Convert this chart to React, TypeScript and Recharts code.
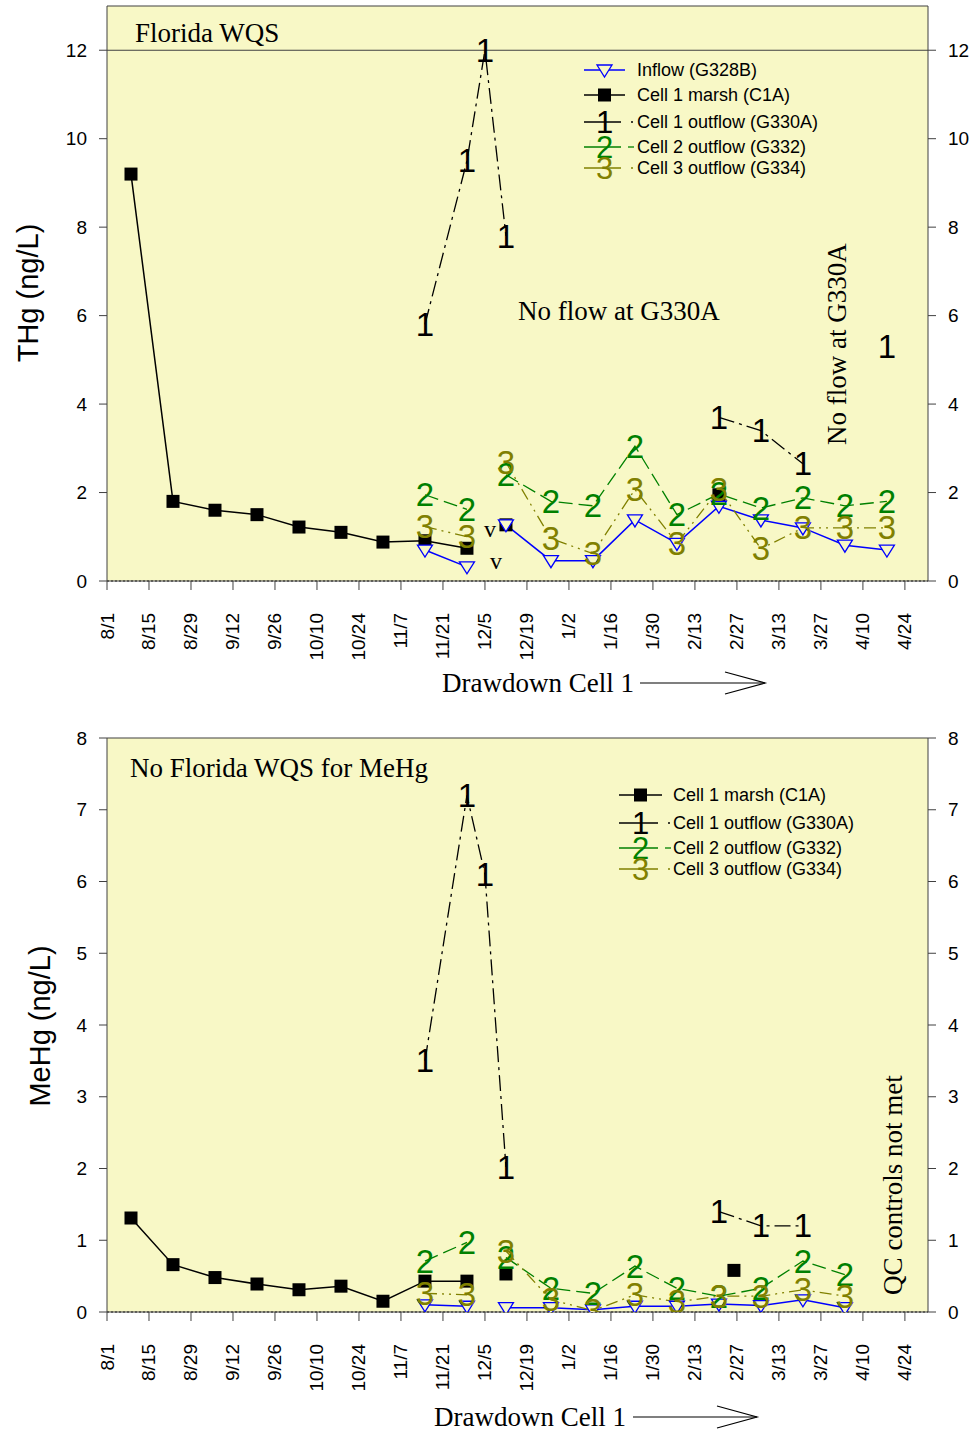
import React from "react";
import { ComposedChart, Line, XAxis, YAxis, CartesianGrid, ReferenceLine } from "recharts";

// x axis tick labels (every two weeks from 8/1)
const tickDates = ["8/1", "8/15", "8/29", "9/12", "9/26", "10/10", "10/24", "11/7", "11/21", "12/5", "12/19", "1/2", "1/16", "1/30", "2/13", "2/27", "3/13", "3/27", "4/10", "4/24"];

// THg panel
const thgDates = ["8/9", "8/23", "9/6", "9/20", "10/4", "10/18", "11/1", "11/15", "11/29", "12/5", "12/12", "12/27", "1/10", "1/24", "2/7", "2/21", "3/7", "3/21", "4/4", "4/18"];
const thgInflow = [null, null, null, null, null, null, null, 0.7, 0.32, null, 1.27, 0.46, 0.46, 1.38, 0.85, 1.69, 1.38, 1.2, 0.81, 0.7];
const thgC1A = [9.2, 1.8, 1.6, 1.5, 1.22, 1.1, 0.88, 0.91, 0.74, null, 1.27, null, null, null, null, 1.95, null, null, null, null];
const thgG330A = [null, null, null, null, null, null, null, 5.8, 9.5, 12.0, 7.8, null, null, null, null, 3.7, 3.4, 2.65, null, 5.3];
const thgG332 = [null, null, null, null, null, null, null, 1.95, 1.62, null, 2.4, 1.8, 1.7, 3.05, 1.5, 1.97, 1.65, 1.88, 1.7, 1.8];
const thgG334 = [null, null, null, null, null, null, null, 1.23, 1.0, null, 2.68, 0.96, 0.62, 2.07, 0.85, 2.07, 0.73, 1.2, 1.2, 1.2];
const thgTicks = [0, 2, 4, 6, 8, 10, 12];

// MeHg panel
const mehgDates = ["8/9", "8/23", "9/6", "9/20", "10/4", "10/18", "11/1", "11/15", "11/29", "12/5", "12/12", "12/27", "1/10", "1/24", "2/7", "2/21", "3/7", "3/21", "4/4"];
const mehgInflow = [null, null, null, null, null, null, null, 0.1, 0.08, null, 0.06, 0.06, 0.03, 0.08, 0.08, 0.11, 0.09, 0.17, 0.06];
const mehgG330A = [null, null, null, null, null, null, null, 3.5, 7.2, 6.1, 2.02, null, null, null, null, 1.4, 1.2, 1.2, null];
const mehgG332 = [null, null, null, null, null, null, null, 0.71, 0.97, null, 0.76, 0.33, 0.26, 0.64, 0.33, 0.22, 0.33, 0.71, 0.52];
const mehgG334 = [null, null, null, null, null, null, null, 0.26, 0.24, null, 0.85, 0.17, 0.02, 0.24, 0.14, 0.22, 0.22, 0.31, 0.22];
const mehgC1ADates = ["8/9", "8/23", "9/6", "9/20", "10/4", "10/18", "11/1", "11/15", "11/29", "12/5", "12/12", "12/27", "2/26"];
const mehgC1A = [1.31, 0.66, 0.48, 0.39, 0.31, 0.36, 0.15, 0.43, 0.43, null, 0.53, null, 0.58];
const mehgTicks = [0, 1, 2, 3, 4, 5, 6, 7, 8];

const SANS = "'Liberation Sans', Arial, sans-serif";
const SERIF = "'Liberation Serif', 'Times New Roman', serif";
const PLOT_BG = "#F8F8C6";
const FRAME = "#404040";
const BLUE = "#0000FF";
const GREEN = "#008000";
const OLIVE = "#808000";
const DASH_1 = "16 5 3 5";
const DASH_2 = "14 6";
const DASH_3 = "12 5 2 5 2 5";
const DIGIT_SIZE = 33;

const MONTH_START: Record<number, number> = { 8: 0, 9: 31, 10: 61, 11: 92, 12: 122, 1: 153, 2: 184, 3: 212, 4: 243 };
const dayOf = (d: string) => {
  const [m, dd] = d.split("/").map(Number);
  return MONTH_START[m] + dd - 1;
};
const X_MAX = 273.7;
const tickDays = tickDates.map(dayOf);
const tickLabel = (day: number) => tickDates[tickDays.indexOf(day)] ?? "";

type Pt = { day: number; value: number | null };
const toPoints = (dates: string[], values: (number | null)[]): Pt[] =>
  dates.map((d, i) => ({ day: dayOf(d), value: values[i] }));

const digitDot = (digit: string, color: string) => (p: any) => {
  const { cx, cy, index, payload } = p;
  if (payload?.value == null || cx == null || cy == null) return <g key={`${digit}-${index}`} />;
  return (
    <text key={`${digit}-${index}`} x={cx} y={cy} textAnchor="middle" dominantBaseline="central" fontFamily={SANS} fontSize={DIGIT_SIZE} fill={color}>
      {digit}
    </text>
  );
};

const squareDot = (p: any) => {
  const { cx, cy, index, payload } = p;
  if (payload?.value == null || cx == null || cy == null) return <g key={`sq-${index}`} />;
  return <rect key={`sq-${index}`} x={cx - 6.5} y={cy - 6.5} width={13} height={13} fill="#000" />;
};

const triangleDot = (p: any) => {
  const { cx, cy, index, payload } = p;
  if (payload?.value == null || cx == null || cy == null) return <g key={`tr-${index}`} />;
  return (
    <polygon key={`tr-${index}`} points={`${cx - 7.5},${cy - 5} ${cx + 7.5},${cy - 5} ${cx},${cy + 7}`} fill={PLOT_BG} stroke={BLUE} strokeWidth={1.3} />
  );
};

const XTick = (p: any) => {
  const { x, y, payload } = p;
  return (
    <text x={x} y={y} transform={`rotate(-90 ${x} ${y})`} textAnchor="end" dominantBaseline="central" fontFamily={SANS} fontSize={19} fill="#000">
      {tickLabel(payload.value)}
    </text>
  );
};

type Series = { key: string; data: Pt[]; color: string; dash?: string; width: number; dot: any };

const Panel = ({ height, marginTop, xAxisHeight, yMax, yTicks, wqs, series }: {
  height: number; marginTop: number; xAxisHeight: number; yMax: number; yTicks: number[]; wqs?: number; series: Series[];
}) => {
  const yTick = { fontSize: 19, fill: "#000", fontFamily: SANS };
  return (
    <ComposedChart width={979} height={height} margin={{ top: marginTop, right: 0, bottom: 0, left: 0 }}>
      <CartesianGrid fill={PLOT_BG} horizontal={false} vertical={false} stroke="none" yAxisId="left" />
      <XAxis dataKey="day" type="number" domain={[0, X_MAX]} ticks={tickDays} interval={0} allowDataOverflow
        tick={<XTick />} tickSize={9} tickMargin={23} height={xAxisHeight} axisLine={{ stroke: FRAME }} tickLine={{ stroke: FRAME }} />
      <YAxis yAxisId="left" type="number" domain={[0, yMax]} ticks={yTicks} interval={0} allowDataOverflow width={107}
        tick={yTick} tickSize={8} tickMargin={12} axisLine={{ stroke: FRAME }} tickLine={{ stroke: FRAME }} />
      <YAxis yAxisId="right" orientation="right" type="number" domain={[0, yMax]} ticks={yTicks} interval={0} allowDataOverflow width={51}
        tick={yTick} tickSize={8} tickMargin={12} axisLine={{ stroke: FRAME }} tickLine={{ stroke: FRAME }} />
      <ReferenceLine yAxisId="left" y={yMax} stroke={FRAME} strokeWidth={1.2} />
      {wqs != null && <ReferenceLine yAxisId="left" y={wqs} stroke={FRAME} strokeWidth={1.2} />}
      <ReferenceLine yAxisId="left" y={0} stroke="#000" strokeDasharray="2 2" />
      {series.map((s) => (
        <Line key={s.key} yAxisId="left" data={s.data} dataKey="value" type="linear" stroke={s.color} strokeWidth={s.width}
          strokeDasharray={s.dash} dot={s.dot} activeDot={false} connectNulls={false} isAnimationActive={false} />
      ))}
    </ComposedChart>
  );
};

const thgSeries: Series[] = [
  { key: "c1a", data: toPoints(thgDates, thgC1A), color: "#000", width: 1.5, dot: squareDot },
  { key: "inflow", data: toPoints(thgDates, thgInflow), color: BLUE, width: 1.5, dot: triangleDot },
  { key: "g330a", data: toPoints(thgDates, thgG330A), color: "#000", width: 1.3, dash: DASH_1, dot: digitDot("1", "#000") },
  { key: "g332", data: toPoints(thgDates, thgG332), color: GREEN, width: 1.3, dash: DASH_2, dot: digitDot("2", GREEN) },
  { key: "g334", data: toPoints(thgDates, thgG334), color: OLIVE, width: 1.3, dash: DASH_3, dot: digitDot("3", OLIVE) },
];

const mehgSeries: Series[] = [
  { key: "c1a", data: toPoints(mehgC1ADates, mehgC1A), color: "#000", width: 1.5, dot: squareDot },
  { key: "inflow", data: toPoints(mehgDates, mehgInflow), color: BLUE, width: 1.5, dot: triangleDot },
  { key: "g330a", data: toPoints(mehgDates, mehgG330A), color: "#000", width: 1.3, dash: DASH_1, dot: digitDot("1", "#000") },
  { key: "g332", data: toPoints(mehgDates, mehgG332), color: GREEN, width: 1.3, dash: DASH_2, dot: digitDot("2", GREEN) },
  { key: "g334", data: toPoints(mehgDates, mehgG334), color: OLIVE, width: 1.3, dash: DASH_3, dot: digitDot("3", OLIVE) },
];

type LegendRow = { label: string; kind: "inflow" | "c1a" | "1" | "2" | "3"; y: number };

const LegendBlock = ({ x0, x1, tx, rows }: { x0: number; x1: number; tx: number; rows: LegendRow[] }) => {
  const mid = (x0 + x1) / 2;
  return (
    <g>
      {rows.map((r) => {
        let sample: React.ReactNode;
        if (r.kind === "inflow") {
          sample = (
            <g>
              <line x1={x0} x2={x1} y1={r.y} y2={r.y} stroke={BLUE} strokeWidth={1.5} />
              <polygon points={`${mid - 7.5},${r.y - 5} ${mid + 7.5},${r.y - 5} ${mid},${r.y + 7}`} fill={PLOT_BG} stroke={BLUE} strokeWidth={1.3} />
            </g>
          );
        } else if (r.kind === "c1a") {
          sample = (
            <g>
              <line x1={x0} x2={x1} y1={r.y} y2={r.y} stroke="#000" strokeWidth={1.5} />
              <rect x={mid - 6.5} y={r.y - 6.5} width={13} height={13} fill="#000" />
            </g>
          );
        } else {
          const color = r.kind === "1" ? "#000" : r.kind === "2" ? GREEN : OLIVE;
          const tail = r.kind === "2" ? [x1 + 3, x1 + 9] : [x1 + 6, x1 + 8];
          sample = (
            <g>
              <line x1={x0} x2={x1 - 4} y1={r.y} y2={r.y} stroke={color} strokeWidth={1.3} />
              <line x1={tail[0]} x2={tail[1]} y1={r.y} y2={r.y} stroke={color} strokeWidth={1.3} />
              <text x={mid} y={r.y} textAnchor="middle" dominantBaseline="central" fontFamily={SANS} fontSize={31} fill={color}>{r.kind}</text>
            </g>
          );
        }
        return (
          <g key={r.label}>
            {sample}
            <text x={tx} y={r.y} dominantBaseline="central" fontFamily={SANS} fontSize={18} fill="#000">{r.label}</text>
          </g>
        );
      })}
    </g>
  );
};

const Arrow = ({ x0, x1, y }: { x0: number; x1: number; y: number }) => (
  <g stroke="#000" strokeWidth={1.2} fill="none">
    <line x1={x0} x2={x1} y1={y} y2={y} />
    <polyline points={`${x1 - 40},${y - 11} ${x1},${y} ${x1 - 40},${y + 11}`} />
  </g>
);

const Overlay = () => (
  <svg width={979} height={1434} style={{ position: "absolute", left: 0, top: 0, pointerEvents: "none" }}>
    <text x={28} y={293} transform="rotate(-90 28 293)" textAnchor="middle" dominantBaseline="central" fontFamily={SANS} fontSize={29}>THg (ng/L)</text>
    <text x={40} y={1026} transform="rotate(-90 40 1026)" textAnchor="middle" dominantBaseline="central" fontFamily={SANS} fontSize={29}>MeHg (ng/L)</text>

    <text x={135} y={42} fontFamily={SERIF} fontSize={27}>Florida WQS</text>
    <text x={518} y={320} fontFamily={SERIF} fontSize={27}>No flow at G330A</text>
    <text x={837} y={344} transform="rotate(-90 837 344)" textAnchor="middle" dominantBaseline="central" fontFamily={SERIF} fontSize={27}>No flow at G330A</text>
    <text x={490} y={537} textAnchor="middle" fontFamily={SERIF} fontSize={24}>v</text>
    <text x={496} y={569} textAnchor="middle" fontFamily={SERIF} fontSize={24}>v</text>
    <text x={442} y={692} fontFamily={SERIF} fontSize={27}>Drawdown Cell 1</text>
    <Arrow x0={640} x1={765} y={683} />
    <LegendBlock x0={584} x1={625} tx={637} rows={[
      { label: "Inflow (G328B)", kind: "inflow", y: 70 },
      { label: "Cell 1 marsh (C1A)", kind: "c1a", y: 95 },
      { label: "Cell 1 outflow (G330A)", kind: "1", y: 122 },
      { label: "Cell 2 outflow (G332)", kind: "2", y: 147 },
      { label: "Cell 3 outflow (G334)", kind: "3", y: 168 },
    ]} />

    <text x={130} y={777} fontFamily={SERIF} fontSize={27}>No Florida WQS for MeHg</text>
    <text x={893} y={1185} transform="rotate(-90 893 1185)" textAnchor="middle" dominantBaseline="central" fontFamily={SERIF} fontSize={27}>QC controls not met</text>
    <text x={434} y={1426} fontFamily={SERIF} fontSize={27}>Drawdown Cell 1</text>
    <Arrow x0={633} x1={757} y={1417} />
    <LegendBlock x0={619} x1={662} tx={673} rows={[
      { label: "Cell 1 marsh (C1A)", kind: "c1a", y: 795 },
      { label: "Cell 1 outflow (G330A)", kind: "1", y: 823 },
      { label: "Cell 2 outflow (G332)", kind: "2", y: 848 },
      { label: "Cell 3 outflow (G334)", kind: "3", y: 869 },
    ]} />
  </svg>
);

export default function App() {
  return (
    <div style={{ position: "absolute", left: 0, top: 0, width: 979, height: 1434, background: "#fff", overflow: "hidden", fontFamily: SANS }}>
      <div style={{ position: "absolute", left: 0, top: 0 }}>
        <Panel height={720} marginTop={6} xAxisHeight={139} yMax={13} yTicks={thgTicks} wqs={12} series={thgSeries} />
      </div>
      <div style={{ position: "absolute", left: 0, top: 720 }}>
        <Panel height={714} marginTop={18} xAxisHeight={122} yMax={8} yTicks={mehgTicks} series={mehgSeries} />
      </div>
      <Overlay />
    </div>
  );
}
